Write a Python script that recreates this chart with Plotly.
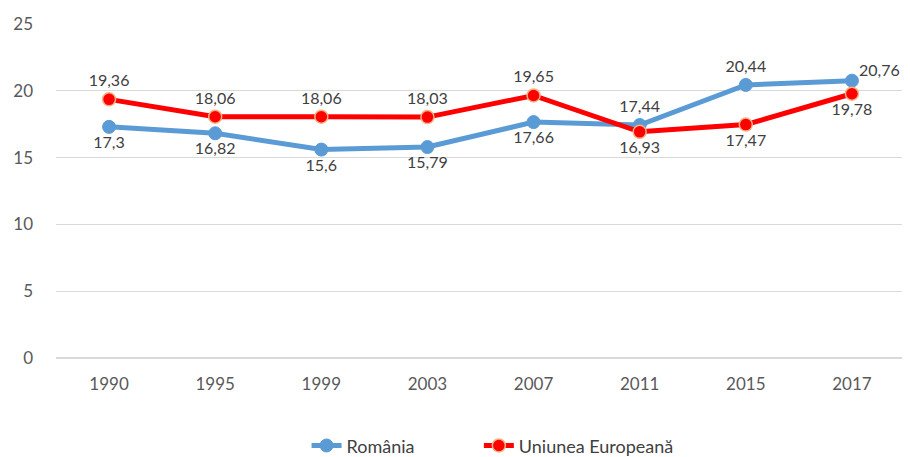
import plotly.graph_objects as go

years = ["1990", "1995", "1999", "2003", "2007", "2011", "2015", "2017"]
romania = [17.3, 16.82, 15.6, 15.79, 17.66, 17.44, 20.44, 20.76]
ue = [19.36, 18.06, 18.06, 18.03, 19.65, 16.93, 17.47, 19.78]

ro_pos = ["bottom center"] * 5 + ["top center", "top center", "top center"]
ue_pos = ["top center"] * 5 + ["bottom center", "bottom center", "bottom center"]

def fmt(v):
    return f"{v:g}".replace(".", ",")

font_family = "Lato, Open Sans, sans-serif"
label_color = "#404040"

ro_text = [fmt(v) for v in romania]
ro_text[-1] = ""  # last label placed via annotation to the right

fig = go.Figure()
fig.add_trace(go.Scatter(
    x=years, y=romania, name="România", mode="lines+markers+text",
    line=dict(color="#5B9BD5", width=5),
    marker=dict(size=13, color="#5B9BD5", line=dict(color="#5B9BD5", width=1)),
    text=ro_text, textposition=ro_pos,
    textfont=dict(size=16, color=label_color, family=font_family),
    cliponaxis=False, legend="legend",
))
fig.add_trace(go.Scatter(
    x=years, y=ue, name="Uniunea Europeană", mode="lines+markers+text",
    line=dict(color="#FF0000", width=5),
    marker=dict(size=13, color="#FF0000", line=dict(color="#F4B183", width=1.5)),
    text=[fmt(v) for v in ue], textposition=ue_pos,
    textfont=dict(size=16, color=label_color, family=font_family),
    cliponaxis=False, legend="legend2",
))

fig.add_annotation(
    x=len(years) - 1, y=romania[-1], text=fmt(romania[-1]), showarrow=False,
    xanchor="left", yanchor="middle", xshift=5, yshift=11,
    font=dict(size=16, color=label_color, family=font_family),
)

legend_common = dict(orientation="h", xref="container", xanchor="left",
                     yref="container", y=0.025, yanchor="middle",
                     font=dict(size=18, color=label_color))

# page body has an 8px margin, so the figure is sized/offset to compensate
fig.update_layout(
    width=902, height=449,
    margin=dict(l=45, r=5, t=12, b=99),
    plot_bgcolor="white", paper_bgcolor="white",
    font=dict(family=font_family, size=16, color="#595959"),
    showlegend=True,
    legend=dict(x=0.331, **legend_common),
    legend2=dict(x=0.522, **legend_common),
    xaxis=dict(type="category", range=[-0.5, len(years) - 0.5],
               showgrid=False, showline=False, ticks="",
               ticklabelstandoff=14,
               tickfont=dict(size=17, color="#595959")),
    yaxis=dict(range=[0, 25], dtick=5, showgrid=True, gridcolor="#D9D9D9",
               gridwidth=1, zeroline=True, zerolinecolor="#D9D9D9", showline=False,
               ticks="", ticklabelstandoff=22,
               tickfont=dict(size=17, color="#595959")),
)

fig.write_html("out.html")
